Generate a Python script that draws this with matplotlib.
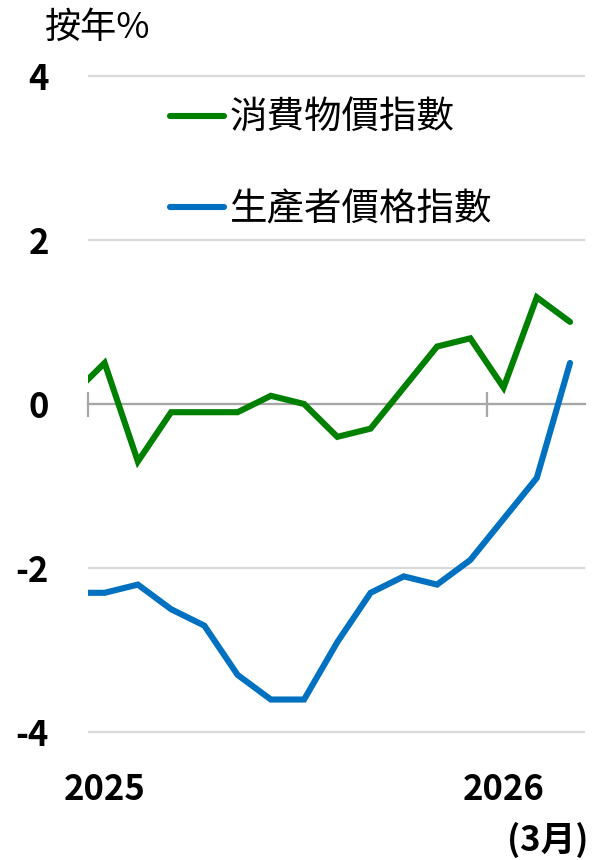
import matplotlib
matplotlib.use("Agg")
import matplotlib.pyplot as plt
import matplotlib.transforms as mtransforms

plt.rcParams['font.family'] = ['Noto Sans CJK TC', 'DejaVu Sans']

# monthly, Dec 2024 .. Mar 2026
months = list(range(-1, 15))
cpi = [0.1, 0.5, -0.7, -0.1, -0.1, -0.1, 0.1, 0.0, -0.4, -0.3, 0.2, 0.7, 0.8, 0.2, 1.3, 1.0]
ppi = [-2.3, -2.3, -2.2, -2.5, -2.7, -3.3, -3.6, -3.6, -2.9, -2.3, -2.1, -2.2, -1.9, -1.4, -0.9, 0.5]
year_pos = [0, 12]
year_labels = ['2025', '2026']
year_edges = [-0.5, 11.5]
y_ticks = [-4, -2, 0, 2, 4]

green = '#008000'
blue = '#0070C0'

fig = plt.figure(figsize=(5.93, 8.6), dpi=100)
ax = fig.add_axes([88 / 593, 126 / 860, 497 / 593, 660 / 860])

ax.plot(months, cpi, color=green, lw=4.4, label='消費物價指數', solid_capstyle='round', solid_joinstyle='miter')
ax.plot(months, ppi, color=blue, lw=4.4, label='生產者價格指數', solid_capstyle='round', solid_joinstyle='miter')

ax.set_xlim(-0.5, 14.45)
ax.set_ylim(-4.02, 4.02)

for s in ['top', 'right', 'left']:
    ax.spines[s].set_visible(False)
ax.spines['bottom'].set_position(('data', 0))
ax.spines['bottom'].set_color('#a6a6a6')
ax.spines['bottom'].set_linewidth(1.6)
ax.spines['bottom'].set_zorder(1)

ax.set_xticks(year_edges)
ax.set_xticklabels([])
ax.tick_params(axis='x', direction='inout', length=18, width=1.6, color='#a6a6a6')

ax.set_yticks(y_ticks)
ax.set_yticklabels([str(v) for v in y_ticks], fontsize=25, fontweight='bold')
ax.tick_params(axis='y', length=0, pad=28)
ax.yaxis.grid(True, color='#d9d9d9', lw=1.6, zorder=0)
ax.set_axisbelow(True)

trans = mtransforms.blended_transform_factory(ax.transData, fig.transFigure)
for p, lab in zip(year_pos, year_labels):
    ax.text(p, 1 - 790 / 860, lab, transform=trans, ha='center', va='center',
            fontsize=25, fontweight='bold')

fig.text(588 / 593, 1 - 840 / 860, '(3月)', ha='right', va='center', fontsize=25, fontweight='bold')
fig.text(45 / 593, 1 - 28 / 860, '按年%', ha='left', va='center', fontsize=26)

ax.legend(loc='upper left', bbox_to_anchor=(0.165, 0.962), frameon=False, fontsize=27,
          handlelength=1.45, handletextpad=0.14, labelspacing=1.4, borderpad=0, borderaxespad=0)

fig.savefig('out.png', dpi=100)
